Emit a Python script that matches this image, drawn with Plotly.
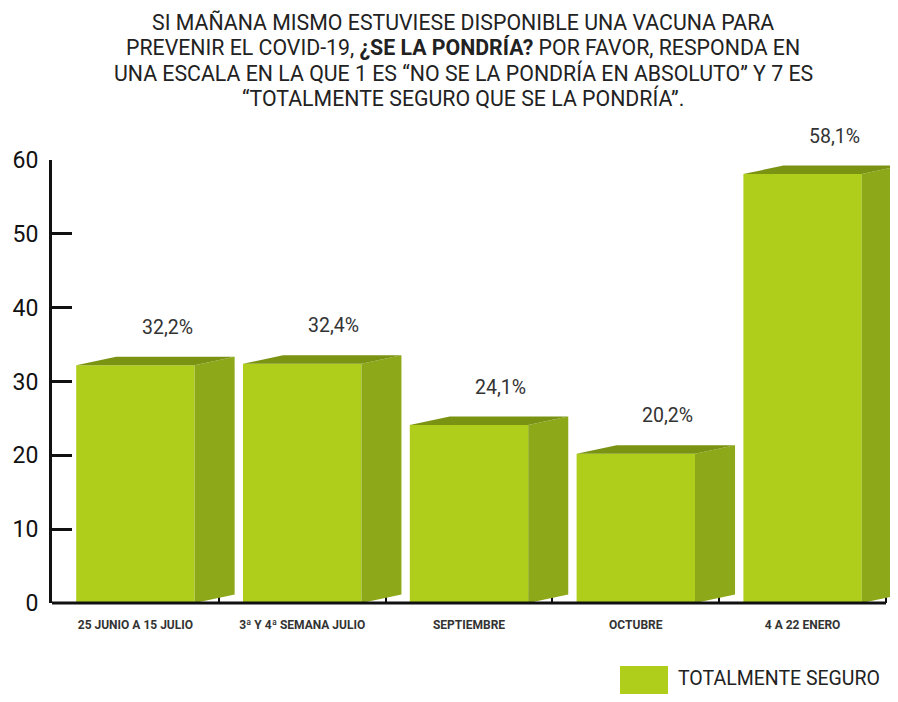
import plotly.graph_objects as go

categories = ["25 JUNIO A 15 JULIO", "3ª Y 4ª SEMANA JULIO", "SEPTIEMBRE", "OCTUBRE", "4 A 22 ENERO"]
values = [32.2, 32.4, 24.1, 20.2, 58.1]
value_labels = ["32,2%", "32,4%", "24,1%", "20,2%", "58,1%"]
series_name = "TOTALMENTE SEGURO"
y_ticks = [0, 10, 20, 30, 40, 50, 60]
title_lines = [
    "SI MAÑANA MISMO ESTUVIESE DISPONIBLE UNA VACUNA PARA",
    "PREVENIR EL COVID-19, <b>¿SE LA PONDRÍA?</b> POR FAVOR, RESPONDA EN",
    "UNA ESCALA EN LA QUE 1 ES “NO SE LA PONDRÍA EN ABSOLUTO” Y 7 ES",
    "“TOTALMENTE SEGURO QUE SE LA PONDRÍA”.",
]

FRONT = "#AFCE1C"
SIDE = "#8DA919"
TOP = "#7A9313"

OFF = 8  # page body margin
W = 898 - OFF
H = 702 - 2 * OFF
L, T = 52 - OFF, 160 - OFF
R = W - (898 - OFF)
B = H - (603 - OFF)
PW = W - L - R
PH = H - T - B

bar_w = 0.71
dx = 0.24   # depth in category units
dy = 1.15   # depth in value units

fig = go.Figure()
fig.add_trace(go.Bar(
    x=categories, y=values, width=bar_w, name=series_name,
    marker=dict(color=FRONT, line=dict(width=0)), showlegend=False,
    hoverinfo="x+y",
))

shapes = []
for i, v in enumerate(values):
    xl = i - bar_w / 2
    xr = i + bar_w / 2
    side = f"M {xr} 0 L {xr} {v} L {xr+dx} {v+dy} L {xr+dx} {dy} Z"
    top = f"M {xl} {v} L {xl+dx} {v+dy} L {xr+dx} {v+dy} L {xr} {v} Z"
    shapes.append(dict(type="path", path=side, xref="x", yref="y",
                       fillcolor=SIDE, line=dict(width=0), layer="above"))
    shapes.append(dict(type="path", path=top, xref="x", yref="y",
                       fillcolor=TOP, line=dict(width=0), layer="above"))

# x axis line from first to last boundary
shapes.append(dict(type="line", xref="x", yref="paper", x0=-0.5, x1=len(categories) - 0.5,
                   y0=0, y1=0, line=dict(color="#111111", width=3)))

# helpers: reference page pixels -> paper coords
def px_x(p):
    return (p - OFF - L) / PW

def px_y(p):
    return (H - B - (p - OFF)) / PH

shapes.append(dict(type="rect", xref="paper", yref="paper",
                   x0=px_x(620), x1=px_x(668), y0=px_y(710), y1=px_y(666),
                   fillcolor=FRONT, line=dict(width=0)))

annotations = []
for i, (v, t) in enumerate(zip(values, value_labels)):
    annotations.append(dict(x=i + 0.19, y=v, xref="x", yref="y", text=t,
                            showarrow=False, yshift=38, yanchor="middle",
                            font=dict(family="Roboto", size=19.5, color="#333333")))

annotations.append(dict(x=px_x(676), y=px_y(678), xref="paper", yref="paper",
                        text=series_name, showarrow=False, xanchor="left", yanchor="middle",
                        font=dict(family="Roboto", size=19.5, color="#222222")))

for k, line in enumerate(title_lines):
    annotations.append(dict(x=px_x(463), y=px_y(22.5 + 25.3 * k), xref="paper", yref="paper",
                            text=line, showarrow=False, xanchor="center", yanchor="middle",
                            font=dict(family="Roboto", size=21.3, color="#222222")))

fig.update_layout(
    width=W, height=H,
    margin=dict(l=L, r=R, t=T, b=B, pad=0),
    paper_bgcolor="white", plot_bgcolor="white",
    shapes=shapes, annotations=annotations,
    showlegend=False,
    xaxis=dict(type="category", range=[-0.5, len(categories) - 0.5 + 12 / 166.8],
               showline=False, showgrid=False, zeroline=False,
               ticks="inside", tickson="boundaries", ticklen=10, tickwidth=2,
               tickcolor="#111111", ticklabelstandoff=13,
               tickfont=dict(family="Roboto", size=12, color="#333333"),
               tickprefix="<b>", ticksuffix="</b>"),
    yaxis=dict(range=[0, 60], tickvals=y_ticks, showline=True, linewidth=3,
               linecolor="#111111", showgrid=False, zeroline=False,
               ticks="inside", ticklen=20, tickwidth=3, tickcolor="#111111",
               ticklabelstandoff=6,
               tickfont=dict(family="Roboto", size=23, color="#111111")),
)

fig.write_html("out.html")
